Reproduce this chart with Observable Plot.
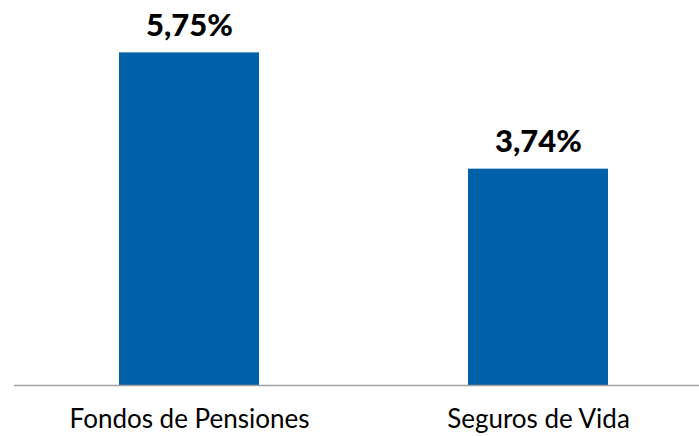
<!DOCTYPE html>
<html>
<head>
<meta charset="utf-8">
<script src="https://cdn.jsdelivr.net/npm/d3@7"></script>
<script src="https://cdn.jsdelivr.net/npm/@observablehq/plot@0.6"></script>
<style>
  html, body { margin: 0; padding: 0; background: #fff; }
  #chart svg { display: block; }
</style>
</head>
<body>
<div id="chart"></div>
<script>
const categories = ["Fondos de Pensiones", "Seguros de Vida"];
const values = [5.75, 3.74];
const valueLabels = ["5,75%", "3,74%"];

const data = categories.map((c, i) => ({ category: c, value: values[i], label: valueLabels[i] }));

const chart = Plot.plot({
  width: 699,
  height: 436,
  marginTop: 9,
  marginBottom: 51,
  marginLeft: 14,
  marginRight: 0,
  style: { fontFamily: "Lato, 'Open Sans', sans-serif", background: "#fff" },
  x: { type: "band", domain: categories, range: [14, 713], paddingInner: 0.6, paddingOuter: 0.3, label: null },
  y: { domain: [0, 6.5], axis: null },
  marks: [
    Plot.barY(data, { x: "category", y: "value", fill: "#0060A8" }),
    Plot.ruleY([0], { stroke: "#A0A0A0", strokeWidth: 1.5 }),
    Plot.text(data, {
      x: "category", y: "value", text: "label",
      dy: -27, fontSize: 31, fontWeight: 900, fill: "#000"
    }),
    Plot.axisX({ tickSize: 0, tickPadding: 24, fontSize: 26, fill: "#000", label: null })
  ]
});
document.getElementById("chart").appendChild(chart);
</script>
</body>
</html>
